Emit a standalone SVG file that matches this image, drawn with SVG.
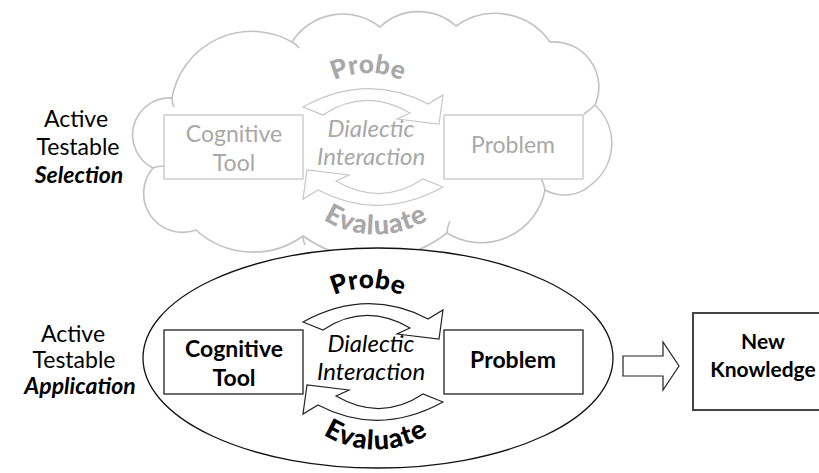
<svg xmlns="http://www.w3.org/2000/svg" width="819" height="473" viewBox="0 0 819 473">
<style>
  .side{font-family:Lato,"Liberation Sans",sans-serif;font-size:23px;fill:#000;text-anchor:middle}
  .sideb{font-family:Lato,"Liberation Sans",sans-serif;font-size:23px;font-weight:bold;font-style:italic;fill:#000;text-anchor:middle}
  .box{fill:#fff;stroke-width:1.3}
  .node{font-family:Lato,"Liberation Sans",sans-serif;font-size:23px;text-anchor:middle}
  .nk{font-family:Lato,"Liberation Sans",sans-serif;font-size:21px;font-weight:bold;fill:#000;text-anchor:middle}
  .dia{font-family:Lato,"Liberation Sans",sans-serif;font-size:24px;font-style:italic;text-anchor:middle}
  .arc{font-family:Lato,"Liberation Sans",sans-serif;font-size:26px;font-weight:900;text-anchor:middle}
  .ev{font-size:27px;letter-spacing:1px}
  .circ{fill:#fff;stroke-width:1.2;stroke-linejoin:miter}
  .g .box,.g .circ{stroke:#c6c6c6}
  .g text{fill:#a8a8a8}
  .k .box,.k .circ{stroke:#222}
  .k text{fill:#000}
  .cl{fill:none;stroke:#c2c2c2;stroke-width:1.6}
</style>
<defs>
  <path id="probeArcB" d="M 310,312.9 A 80 80 0 0 1 426,312.9"/>
  <path id="evalArcB" d="M 318,431 A 100 100 0 0 0 434,431"/>
  <path id="probeArcT" d="M 310,97.9 A 80 80 0 0 1 426,97.9"/>
  <path id="evalArcT" d="M 318,216 A 100 100 0 0 0 434,216"/>
</defs>
<rect width="819" height="473" fill="#fff"/>

<g id="selection-cloud">
  <path d="M 172,98 A 81 81 0 0 1 292,42 A 60 60 0 0 1 380,27 A 56 56 0 0 1 456,26 A 67 67 0 0 1 550,42 A 45 45 0 0 1 595,105 A 52 52 0 0 1 592,184 A 40 40 0 0 1 545,190 A 65 65 0 0 1 447,233 A 120 120 0 0 1 303,236 A 85 85 0 0 1 196,230 A 39 39 0 0 1 153,168 A 37 37 0 0 1 172,98 Z" fill="#fff" stroke="#c2c2c2" stroke-width="1.6"/>
  <path class="cl" d="M 292,42 Q 296,44 299,48"/>
  <path class="cl" d="M 172,98 Q 172,103 174,107"/>
  <path class="cl" d="M 595,105 Q 590,110 584,114"/>
  <path class="cl" d="M 545,190 Q 544,184 541,178"/>
  <path class="cl" d="M 447,233 Q 447,227 450,221"/>
  <path class="cl" d="M 303,236 Q 303,241 305,245"/>
  <path class="cl" d="M 153,168 Q 158,166 164,166"/>
</g>

<g id="application-ellipse">
  <ellipse cx="378" cy="358" rx="235" ry="110" fill="#fff" stroke="#111" stroke-width="1.3"/>
</g>

<g id="label-selection">
  <text class="side" x="76" y="127">Active</text>
  <text class="side" x="78" y="155">Testable</text>
  <text class="sideb" x="79" y="183">Selection</text>
</g>
<g id="label-application">
  <text class="side" x="73" y="342">Active</text>
  <text class="side" x="74" y="368">Testable</text>
  <text class="sideb" x="80" y="394">Application</text>
</g>

<g id="connectors">
  <g class="g">
    <path class="circ" d="M 303,107 Q 367,72 428,104 L 443,95 L 439,124 L 397,119 L 410,113 Q 365,87 323,115 Z"/>
    <path class="circ" d="M 443,187 Q 379,222 318,190 L 303,199 L 307,170 L 349,175 L 336,181 Q 381,207 423,179 Z"/>
  </g>
  <g class="k">
    <path class="circ" d="M 303,322 Q 367,287 428,319 L 443,310 L 439,339 L 397,334 L 410,328 Q 365,302 323,330 Z"/>
    <path class="circ" d="M 443,402 Q 379,437 318,405 L 303,414 L 307,385 L 349,390 L 336,396 Q 381,422 423,394 Z"/>
  </g>
  <path d="M 623,356 L 663,356 L 663,342 L 679,366 L 663,390 L 663,376 L 623,376 Z" fill="#fff" stroke="#222" stroke-width="1.2"/>
</g>

<!-- top (grey) -->
<g class="g">
  <g id="tool-top">
    <rect class="box" x="164" y="115" width="139" height="64"/>
    <text class="node" x="234" y="142">Cognitive</text>
    <text class="node" x="234" y="171">Tool</text>
  </g>
  <g id="problem-top">
    <rect class="box" x="444" y="115" width="139" height="64"/>
    <text class="node" x="513" y="153">Problem</text>
  </g>
  <g id="dialectic-top">
    <text class="dia" x="371" y="137">Dialectic</text>
    <text class="dia" x="371" y="165">Interaction</text>
  </g>
  <g id="probe-top"><text class="arc"><textPath href="#probeArcT" startOffset="50%">Probe</textPath></text></g>
  <g id="evaluate-top"><text class="arc ev"><textPath href="#evalArcT" startOffset="50%">Evaluate</textPath></text></g>
</g>

<!-- bottom (black) -->
<g class="k">
  <g id="tool-bottom">
    <rect class="box" x="164" y="330" width="139" height="64"/>
    <text class="node" x="234" y="357" font-weight="bold">Cognitive</text>
    <text class="node" x="234" y="386" font-weight="bold">Tool</text>
  </g>
  <g id="problem-bottom">
    <rect class="box" x="444" y="330" width="139" height="64"/>
    <text class="node" x="513" y="368" font-weight="bold">Problem</text>
  </g>
  <g id="dialectic-bottom">
    <text class="dia" x="371" y="352">Dialectic</text>
    <text class="dia" x="371" y="380">Interaction</text>
  </g>
  <g id="probe-bottom"><text class="arc"><textPath href="#probeArcB" startOffset="50%">Probe</textPath></text></g>
  <g id="evaluate-bottom"><text class="arc ev"><textPath href="#evalArcB" startOffset="50%">Evaluate</textPath></text></g>
</g>

<g id="new-knowledge">
  <rect x="693" y="313" width="132" height="97" fill="#fff" stroke="#444" stroke-width="2"/>
  <text class="nk" x="763" y="349">New</text>
  <text class="nk" x="763" y="377">Knowledge</text>
</g>
</svg>
